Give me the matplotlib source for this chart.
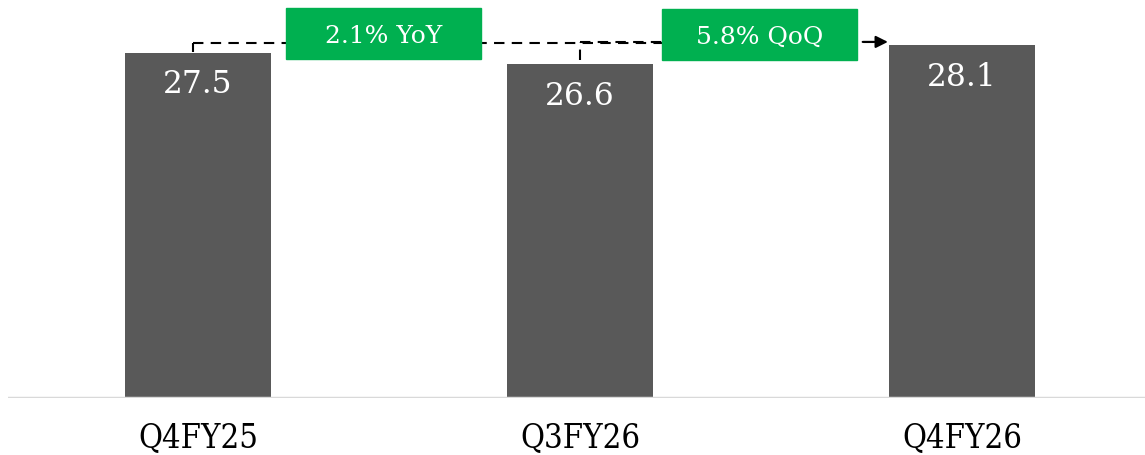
import matplotlib.pyplot as plt
from matplotlib.patches import Rectangle

# data
periods = ['Q4FY25', 'Q3FY26', 'Q4FY26']
values = [27.5, 26.6, 28.1]
yoy_label = '2.1% YoY'
qoq_label = '5.8% QoQ'

bar_color = '#595959'
green = '#00B050'
serif = ['DejaVu Serif']

fig = plt.figure(figsize=(11.45, 4.55), dpi=100)
ax = fig.add_axes([8 / 1145, 57 / 455, 1137 / 1145, 398 / 455])

x = list(range(len(periods)))
ax.bar(x, values, width=0.382, color=bar_color, zorder=2)
ax.set_xlim(-0.497, 2.479)
ax.set_ylim(0, 31.72)

# value labels inside bars
for xi, v in zip(x, values):
    ax.text(xi, v - 2.55, f'{v:.1f}', ha='center', va='center', color='white',
            fontsize=22.5, family=serif)

# category labels
for xi, p in zip(x, periods):
    ax.text(xi, -3.2, p, ha='center', va='center', color='black',
            fontsize=23.5, family=serif, fontstretch='condensed')

# baseline
ax.axhline(0, color='#D9D9D9', lw=2.5, zorder=3)
for s in ax.spines.values():
    s.set_visible(False)
ax.set_xticks([])
ax.set_yticks([])

# dashed connectors
y1 = 28.3
y2 = 28.38
dash = (0, (5, 3.5))
ax.plot([x[0] - 0.013, x[0] - 0.013], [values[0] + 0.1, y1], color='black', lw=1.5, ls=dash)
ax.plot([x[0] - 0.013, 1.5], [y1, y1], color='black', lw=1.5, ls=dash)
ax.plot([x[1], x[1]], [values[1] + 0.35, y2], color='black', lw=1.5, ls=dash)
ax.plot([x[1], 1.77], [y2, y2], color='black', lw=1.5, ls=dash)
ax.annotate('', xy=(1.806, y2), xytext=(1.74, y2),
            arrowprops=dict(arrowstyle='-|>', color='black', lw=1.5,
                            mutation_scale=18, shrinkA=0, shrinkB=0))

# green change boxes
for cx, cy, label in [(0.486, 29.06, yoy_label), (1.47, 28.98, qoq_label)]:
    w, h = 0.51, 4.07
    ax.add_patch(Rectangle((cx - w / 2, cy - h / 2), w, h, color=green, zorder=4))
    ax.text(cx, cy - 0.25, label, ha='center', va='center', color='white',
            fontsize=18, family=serif, zorder=5)

fig.savefig('out.png', dpi=100)
